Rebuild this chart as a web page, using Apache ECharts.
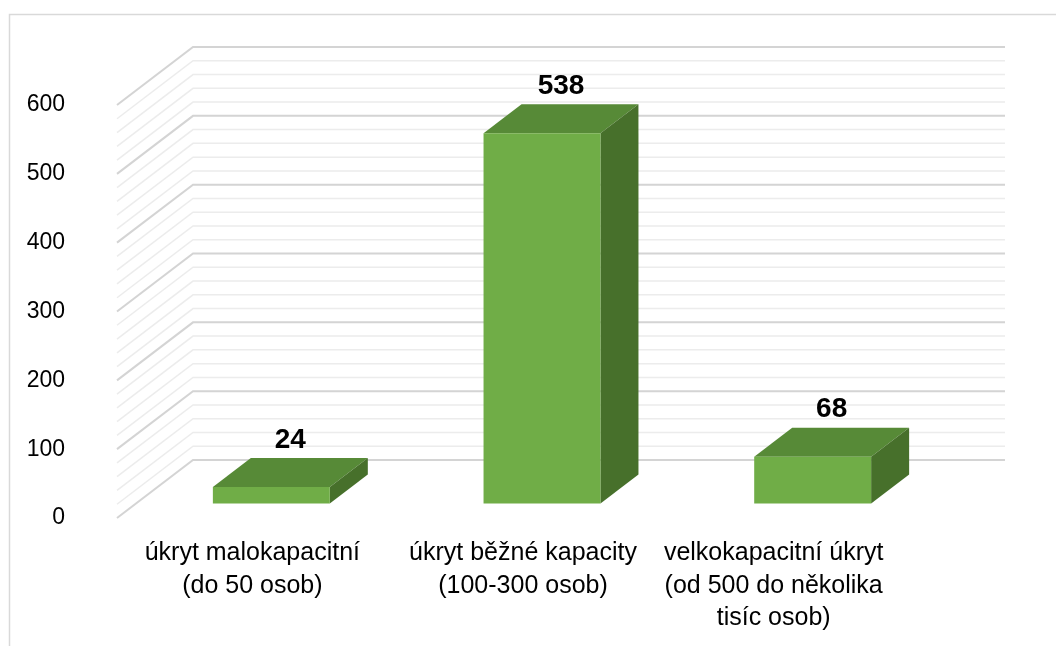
<!DOCTYPE html>
<html>
<head>
<meta charset="utf-8">
<script src="https://cdn.jsdelivr.net/npm/echarts@6/dist/echarts.min.js"></script>
<style>html,body{margin:0;padding:0;background:#fff}#c{width:1056px;height:646px}</style>
</head>
<body>
<div id="c"></div>
<script>
const categories = ['úkryt malokapacitní\n(do 50 osob)', 'úkryt běžné kapacity\n(100-300 osob)', 'velkokapacitní úkryt\n(od 500 do několika\ntisíc osob)'];
const values = [24, 538, 68];
const yTickLabels = ['0', '100', '200', '300', '400', '500', '600'];
const gridValues = [0,20,40,60,80,100,120,140,160,180,200,220,240,260,280,300,320,340,360,380,400,420,440,460,480,500,520,540,560,580,600];

const DX = 76, DY = -58;
const FONT = "'Liberation Sans', Arial, sans-serif";

const chart = echarts.init(document.getElementById('c'), null, {renderer: 'canvas'});
chart.setOption({
  animation: false,
  backgroundColor: '#fff',
  graphic: [{
    type: 'rect', left: 7, top: 12, shape: {x: 0, y: 0, width: 1100, height: 700},
    style: {fill: 'none', stroke: '#d9d9d9', lineWidth: 1.5}, silent: true
  }],
  grid: {left: 117, right: 127, top: 105, bottom: 128},
  xAxis: {
    type: 'category',
    data: categories.map((c, i) => i === categories.length - 1
      ? {value: c, textStyle: {padding: [0, 40, 0, 0]}} : c),
    axisLine: {show: false}, axisTick: {show: false}, splitLine: {show: false},
    axisLabel: {fontFamily: FONT, fontSize: 25, color: '#000', lineHeight: 32.5, margin: 19, interval: 0}
  },
  yAxis: {
    type: 'value', min: 0, max: 600, interval: 100,
    axisLine: {show: false}, axisTick: {show: false}, splitLine: {show: false},
    axisLabel: {fontFamily: FONT, fontSize: 23, color: '#000', margin: 52,
      formatter: (v) => yTickLabels[Math.round(v / 100)]}
  },
  series: [
    {
      type: 'custom', silent: true, z: 1,
      data: gridValues.map(v => [0, v]),
      renderItem: function (params, api) {
        const v = api.value(1);
        const p = api.coord([0, v]);
        const band = api.size([1, 0])[0];
        const xl = p[0] - band / 2;
        const xr = api.coord([categories.length - 1, v])[0] + band / 2;
        const y = p[1];
        const major = v % 100 === 0;
        return {
          type: 'polyline',
          shape: {points: [[xl, y], [xl + DX, y + DY], [xr + DX, y + DY]]},
          style: {fill: 'none', stroke: major ? '#d4d4d4' : '#ececec', lineWidth: major ? 2 : 1.5}
        };
      }
    },
    {
      type: 'custom', silent: true, z: 5,
      data: values.map((v, i) => [i, v]),
      renderItem: function (params, api) {
        const i = api.value(0), v = api.value(1);
        const c = api.coord([i, v]);
        const base = api.coord([i, 0]);
        const band = api.size([1, 0])[0];
        const w = band * 0.432;
        const fx = DX * 0.25, fy = DY * 0.25;
        const dx = DX * 0.5, dy = DY * 0.5;
        const x0 = c[0] + fx - w / 2, x1 = x0 + w;
        const yt = c[1] + fy, yb = base[1] + fy;
        return {
          type: 'group',
          children: [
            {type: 'polygon', shape: {points: [[x0, yt], [x1, yt], [x1 + dx, yt + dy], [x0 + dx, yt + dy]]},
              style: {fill: '#578a37'}},
            {type: 'polygon', shape: {points: [[x1, yt], [x1 + dx, yt + dy], [x1 + dx, yb + dy], [x1, yb]]},
              style: {fill: '#47702b'}},
            {type: 'rect', shape: {x: x0, y: yt, width: w, height: yb - yt},
              style: {fill: '#70ad47'}},
            {type: 'text', x: c[0] + fx + 19, y: yt + dy - 18,
              style: {text: String(v), fill: '#000', font: "bold 28px " + FONT, align: 'center', verticalAlign: 'middle'}}
          ]
        };
      }
    }
  ]
});
</script>
</body>
</html>
